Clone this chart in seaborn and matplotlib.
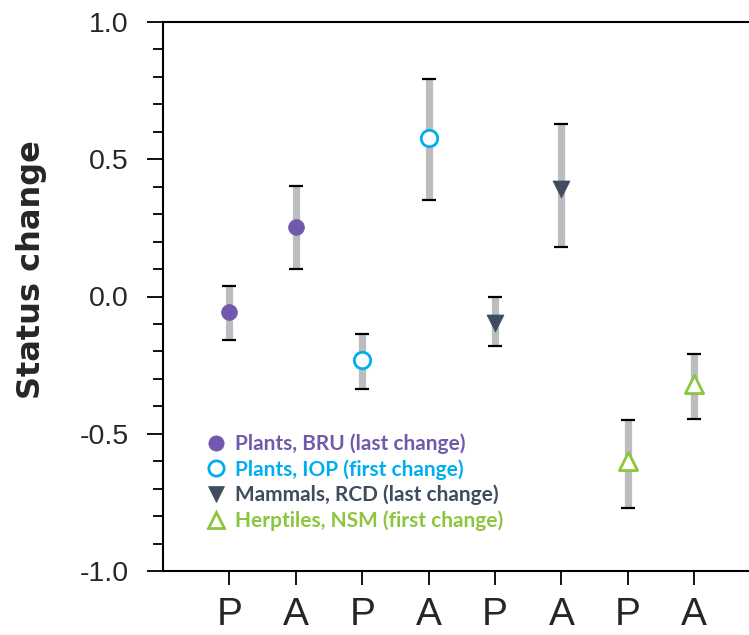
import matplotlib
matplotlib.use("Agg")
import matplotlib.pyplot as plt
from matplotlib.ticker import MultipleLocator, FuncFormatter
from matplotlib.lines import Line2D
from matplotlib.transforms import Bbox
import seaborn as sns
import pandas as pd
import numpy as np

# ---- data ----
tick_labels = ["P", "A", "P", "A", "P", "A", "P", "A"]
groups = ["Plants, BRU (last change)", "Plants, BRU (last change)",
          "Plants, IOP (first change)", "Plants, IOP (first change)",
          "Mammals, RCD (last change)", "Mammals, RCD (last change)",
          "Herptiles, NSM (first change)", "Herptiles, NSM (first change)"]
means = [-0.055, 0.254, -0.230, 0.577, -0.098, 0.393, -0.600, -0.320]
lower = [-0.159, 0.100, -0.336, 0.351, -0.180, 0.180, -0.770, -0.446]
upper = [0.039, 0.403, -0.135, 0.792, 0.000, 0.628, -0.450, -0.210]
group_names = ["Plants, BRU (last change)", "Plants, IOP (first change)",
               "Mammals, RCD (last change)", "Herptiles, NSM (first change)"]
group_colors = ["#7159ad", "#00aeef", "#3f4c5e", "#8cc63f"]
group_markers = ["o", "o", "v", "^"]
group_filled = [True, False, True, False]

df = pd.DataFrame({"pos": np.arange(len(means)), "mean": means,
                   "lower": lower, "upper": upper, "group": groups})

sns.set_style("ticks")
plt.rcParams["font.family"] = ["Liberation Sans", "DejaVu Sans"]

# draw on a wider canvas, then save only the 749x635 region so that the
# frame runs off the right edge as in the reference
W, H = 8.2, 6.35
fig = plt.figure(figsize=(W, H), dpi=100, facecolor="white")
ax = fig.add_axes([163 / (W * 100), 1 - 571 / 635,
                   (800 - 163) / (W * 100), (571 - 22) / 635])
ax.patch.set_visible(False)

# error bars
eb = ax.errorbar(df["pos"], df["mean"],
                 yerr=[df["mean"] - df["lower"], df["upper"] - df["mean"]],
                 fmt="none", ecolor="#bdbcc1", elinewidth=5.2, capsize=5.3,
                 capthick=1.6, zorder=2)
for cap in eb[1]:
    cap.set_color("black")
    cap.set_markeredgecolor("black")

# points
for name, col, mk, filled in zip(group_names, group_colors, group_markers, group_filled):
    sub = df[df["group"] == name]
    if filled:
        sns.scatterplot(data=sub, x="pos", y="mean", ax=ax, marker=mk,
                        color=col, edgecolor=col, s=130 if mk == "o" else 150,
                        linewidth=0.5, zorder=3, legend=False)
    else:
        sns.scatterplot(data=sub, x="pos", y="mean", ax=ax, marker=mk,
                        facecolor="white", edgecolor=col,
                        s=140 if mk == "o" else 170,
                        linewidth=2.0, zorder=3, legend=False)

ax.set_xlim(-1, (800 - 163) / 66.4 - 1)
ax.set_ylim(-1.0, 1.0)
ax.set_xticks(np.arange(len(tick_labels)))
ax.set_xticklabels(tick_labels, fontsize=28)
ax.yaxis.set_major_locator(MultipleLocator(0.5))
ax.yaxis.set_minor_locator(MultipleLocator(0.1))
ax.yaxis.set_major_formatter(FuncFormatter(lambda v, p: f"{v:.1f}"))
ax.tick_params(axis="y", which="both", right=False)
ax.tick_params(axis="y", which="major", length=11.5, width=1.3, labelsize=20.5,
               pad=13, color="black")
ax.tick_params(axis="y", which="minor", length=7, width=1.3, color="black")
ax.tick_params(axis="x", which="major", length=10, width=1.3, pad=9, color="black")
for s in ["left", "bottom", "top"]:
    ax.spines[s].set_linewidth(1.5)
    ax.spines[s].set_color("black")
ax.spines["right"].set_visible(False)
ax.set_xlabel("")
ax.set_ylabel("Status change", fontsize=23, fontweight="bold",
              family=["DejaVu Sans"])
ax.yaxis.set_label_coords(47 / (W * 100), 1 - 270 / 635, transform=fig.transFigure)

# legend
handles = []
for name, col, mk, filled in zip(group_names, group_colors, group_markers, group_filled):
    handles.append(Line2D([], [], linestyle="none", marker=mk, markersize=11,
                          markerfacecolor=col if filled else "white",
                          markeredgecolor=col, markeredgewidth=0.5 if filled else 2.0))
leg = ax.legend(handles, group_names, loc="upper left",
                bbox_to_anchor=(26 / (800 - 163), 0.285), frameon=False,
                handlelength=0.8, handletextpad=0.5, labelspacing=0.25,
                prop={"family": ["Lato", "DejaVu Sans"], "weight": "bold", "size": 15})
for txt, col in zip(leg.get_texts(), group_colors):
    txt.set_color(col)

fig.savefig("out.png", dpi=100, facecolor="white",
            bbox_inches=Bbox.from_bounds(0, 0, 7.49, 6.35))
